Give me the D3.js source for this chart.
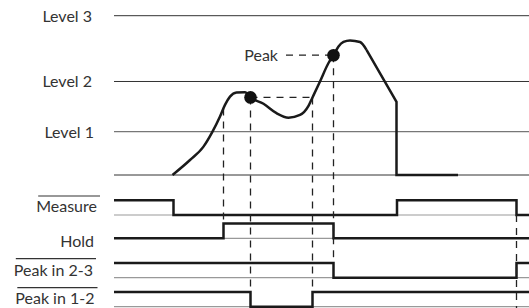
<!DOCTYPE html>
<html><head><meta charset="utf-8">
<script src="https://cdn.jsdelivr.net/npm/d3@7"></script>
<style>body{margin:0;background:#fff}svg{display:block}text{font-family:Lato,"Open Sans",sans-serif;fill:#333}</style>
</head><body><svg id="c" width="529" height="308"></svg>
<script>
// ---- data ----
const levelNames = ["Level 1", "Level 2", "Level 3"];
const levelValues = [27.2, 58.7, 100];

// analog signal: smooth part (time, value)
const curveTimes  = [11.7, 15.2, 17.9, 19.7, 21.2, 22.2, 23.2, 24.5, 26.2, 27.3, 29.9, 32.5, 34.9, 37.2, 38.9, 39.7, 41.2, 42.9, 43.9, 44.9, 45.9, 47.2, 49.2, 50.5];
const curveValues = [0,    9.4,  17.8, 27.2, 36.7, 44.0, 49.2, 51.8, 52.0, 48.7, 44.7, 38.8, 36.0, 37.7, 43.4, 48.7, 58.7, 70.3, 75.2, 80.7, 83.5, 84.5, 83.5, 78.6];
// analog signal: straight tail
const tailTimes  = [50.5, 56.5, 56.5, 68.8];
const tailValues = [78.6, 45.9, 0,    0];

// detected peaks
const peakTimes  = [27.3, 43.9];
const peakValues = [48.7, 75.2];

// digital rows
const rowNames   = ["Measure", "Hold", "Peak in 2-3", "Peak in 1-2"];
const rowInverted = [true, false, true, true];
const measureTimes  = [0, 11.9, 56.6, 80.5]; const measureStates = [1, 0, 1, 0];
const holdTimes     = [0, 21.9, 43.9];       const holdStates    = [0, 1, 0];
const peak23Times   = [0, 43.9, 80.5];       const peak23States  = [1, 0, 1];
const peak12Times   = [0, 27.3, 39.7];       const peak12States  = [1, 0, 1];

// ---- layout ----
const svg = d3.select("#c");
const tEnd = 83;
const x = d3.scaleLinear().domain([0, tEnd]).range([114, 529]);
const y = d3.scaleLinear().domain([0, 100]).range([175, 15.7]);
const rowLow = d3.scaleOrdinal().domain(rowNames).range([215, 238.3, 277.7, 306.7]);
const amp = 14.7;
const fs = 16;

// level lines
const lv = svg.append("g");
lv.append("line").attr("x1", x(0)).attr("x2", x(tEnd)).attr("y1", y(0)).attr("y2", y(0))
  .attr("stroke", "#333").attr("stroke-width", 1);
const levelLabelX = [94, 92, 92];
levelNames.forEach((n, i) => {
  lv.append("line").attr("x1", x(0)).attr("x2", x(tEnd))
    .attr("y1", y(levelValues[i])).attr("y2", y(levelValues[i]))
    .attr("stroke", i === 0 ? "#777" : "#333").attr("stroke-width", i === 0 ? 1.4 : 1);
  lv.append("text").attr("x", levelLabelX[i]).attr("y", y(levelValues[i]) + 6)
    .attr("text-anchor", "end").attr("font-size", fs).text(n);
});

// digital rows
const rowData = [
  [measureTimes, measureStates], [holdTimes, holdStates],
  [peak23Times, peak23States], [peak12Times, peak12States]
];
const labelX = [97, 94, 93, 94.5];
const labelDy = [-3.3, 9, -1.7, -2.4];
rowNames.forEach((n, i) => {
  const low = rowLow(n);
  svg.append("line").attr("x1", x(0)).attr("x2", x(tEnd)).attr("y1", low).attr("y2", low)
    .attr("stroke", "#999").attr("stroke-width", 1.2);
  const [ts, ss] = rowData[i];
  const pts = ts.map((t, k) => [t, ss[k]]);
  pts.push([tEnd, ss[ss.length - 1]]);
  svg.append("path").datum(pts)
    .attr("d", d3.line().x(d => x(d[0])).y(d => low - d[1] * amp).curve(d3.curveStepAfter))
    .attr("fill", "none").attr("stroke", "#1a1a1a").attr("stroke-width", 2.5);
  const t = svg.append("text").attr("x", labelX[i]).attr("y", low + labelDy[i])
    .attr("text-anchor", "end").attr("font-size", fs).text(n);
  if (rowInverted[i]) {
    const b = t.node().getBBox();
    svg.append("line").attr("x1", b.x + 2).attr("x2", b.x + b.width + 3)
      .attr("y1", low - 19).attr("y2", low - 19).attr("stroke", "#333").attr("stroke-width", 1.2);
  }
});

// dashed guides
const dash = "7,6";
const gd = svg.append("g").attr("stroke", "#222").attr("stroke-width", 1.3)
  .attr("stroke-dasharray", dash).attr("fill", "none");
const curveAt = t => {
  for (let k = 1; k < curveTimes.length; k++) if (curveTimes[k] >= t) {
    const f = (t - curveTimes[k-1]) / (curveTimes[k] - curveTimes[k-1]);
    return curveValues[k-1] + f * (curveValues[k] - curveValues[k-1]);
  }
  return 0;
};
gd.append("line").attr("x1", x(holdTimes[1])).attr("x2", x(holdTimes[1]))
  .attr("y1", y(curveAt(holdTimes[1]))).attr("y2", rowLow("Hold") - amp);
gd.append("line").attr("x1", x(peakTimes[0])).attr("x2", x(peakTimes[0]))
  .attr("y1", y(peakValues[0])).attr("y2", rowLow("Peak in 1-2") - amp);
gd.append("line").attr("x1", x(peakTimes[0])).attr("x2", x(peak12Times[2]))
  .attr("y1", y(peakValues[0])).attr("y2", y(peakValues[0]));
gd.append("line").attr("x1", x(peak12Times[2])).attr("x2", x(peak12Times[2]))
  .attr("y1", y(peakValues[0])).attr("y2", rowLow("Peak in 1-2") - amp);
gd.append("line").attr("x1", x(peakTimes[1])).attr("x2", x(peakTimes[1]))
  .attr("y1", y(peakValues[1])).attr("y2", rowLow("Peak in 2-3") - amp);
gd.append("line").attr("x1", 286).attr("x2", x(peakTimes[1]))
  .attr("y1", y(peakValues[1])).attr("y2", y(peakValues[1]));
gd.append("line").attr("x1", x(measureTimes[3])).attr("x2", x(measureTimes[3]))
  .attr("y1", rowLow("Measure")).attr("y2", 308);

svg.append("text").attr("x", 278).attr("y", y(peakValues[1]) + 5.5)
  .attr("text-anchor", "end").attr("font-size", fs).text("Peak");

// analog curve
const smooth = d3.line().x((d, i) => x(curveTimes[i])).y(d => y(d)).curve(d3.curveMonotoneX);
const tail = d3.line().x((d, i) => x(tailTimes[i])).y(d => y(d));
svg.append("path").attr("d", smooth(curveValues)).attr("fill", "none")
  .attr("stroke", "#1a1a1a").attr("stroke-width", 2.5).attr("stroke-linejoin", "round");
svg.append("path").attr("d", tail(tailValues)).attr("fill", "none")
  .attr("stroke", "#1a1a1a").attr("stroke-width", 2.5).attr("stroke-linejoin", "miter");

// peak dots
svg.selectAll("circle.pk").data(peakTimes).join("circle")
  .attr("cx", d => x(d)).attr("cy", (d, i) => y(peakValues[i])).attr("r", 6.3).attr("fill", "#111");
</script></body></html>
